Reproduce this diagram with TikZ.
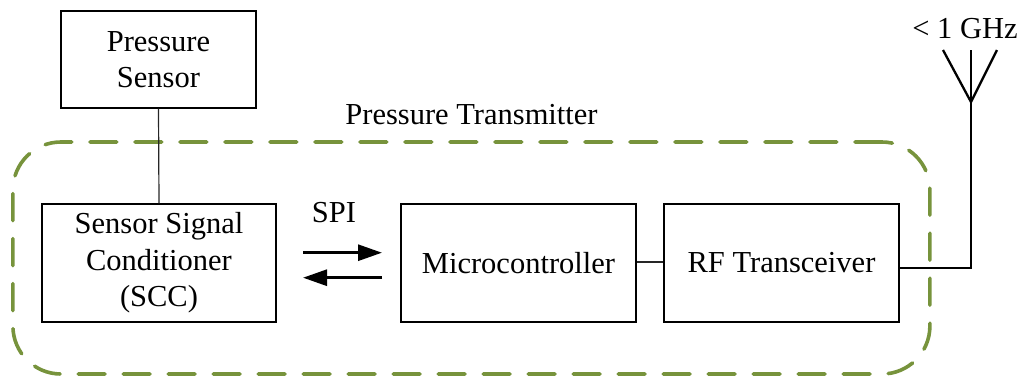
\documentclass[tikz,border=0pt]{standalone}
\usepackage{fontspec}
\setmainfont{Liberation Serif}
\usetikzlibrary{arrows.meta}

\definecolor{framegreen}{RGB}{119,147,60}

\tikzset{
  block/.style={draw=black, line width=1.3pt, inner sep=0pt, align=center,
                font=\fontsize{30.5}{36.5}\selectfont},
  link/.style={draw=black!85, line width=1.2pt},
  busarrow/.style={line width=2.8pt, -{Triangle[length=24pt,width=16pt]}},
  radiowire/.style={line width=2.3pt},
  frame/.style={draw=framegreen, line width=3.6pt, rounded corners=48pt,
                dash pattern=on 27pt off 18pt, line cap=round,
                inner sep=0pt},
  caption/.style={inner sep=0pt, font=\fontsize{30.5}{36.5}\selectfont},
}

\begin{document}
\begin{tikzpicture}[x=1pt, y=-1pt]
  \useasboundingbox (0,0) rectangle (1021,376);

  % transmitter enclosure
  \node[frame, minimum width=917pt, minimum height=232pt] (enclosure) at (471.4,258) {};
  \node[caption] (encl-label) at (471.5,115) {Pressure Transmitter};

  % functional blocks
  \node[block, minimum width=195pt, minimum height=97pt] (sensor) at (158.5,59.5) {Pressure\\Sensor};
  \node[block, minimum width=234pt, minimum height=118pt] (scc) at (159,263) {Sensor Signal\\Conditioner\\(SCC)};
  \node[block, minimum width=235pt, minimum height=118pt] (mcu) at (518.5,263) {Microcontroller};
  \node[block, minimum width=235pt, minimum height=118pt] (rf) at (781.5,263) {RF Transceiver};

  % SPI bus between SCC and microcontroller
  \node[caption] (spi) at (334,213) {SPI};
  \coordinate (tx-a) at (303,252.7);
  \coordinate (tx-b) at (382,252.7);
  \coordinate (rx-a) at (382,277.7);
  \coordinate (rx-b) at (303,277.7);
  \draw[busarrow] (tx-a) -- (tx-b);
  \draw[busarrow] (rx-a) -- (rx-b);

  % internal connections
  \draw[link] (sensor.south) -- (scc.north);
  \draw[link] (mcu.east |- 0,262) -- (rf.west |- 0,262);

  % antenna
  \coordinate (feed) at (971,268);
  \coordinate (ant-base) at (971,102);
  \coordinate (ant-top) at (971,50);
  \coordinate (ant-left) at (943,50);
  \coordinate (ant-right) at (997,50);
  \draw[radiowire] (rf.east |- feed) -- (feed) -- (ant-base);
  \draw[radiowire, line join=miter] (ant-left) -- (ant-base) -- (ant-right);
  \draw[radiowire] (ant-base) -- (ant-top);
  \node[caption] (band) at (965,29) {< 1 GHz};
\end{tikzpicture}
\end{document}
